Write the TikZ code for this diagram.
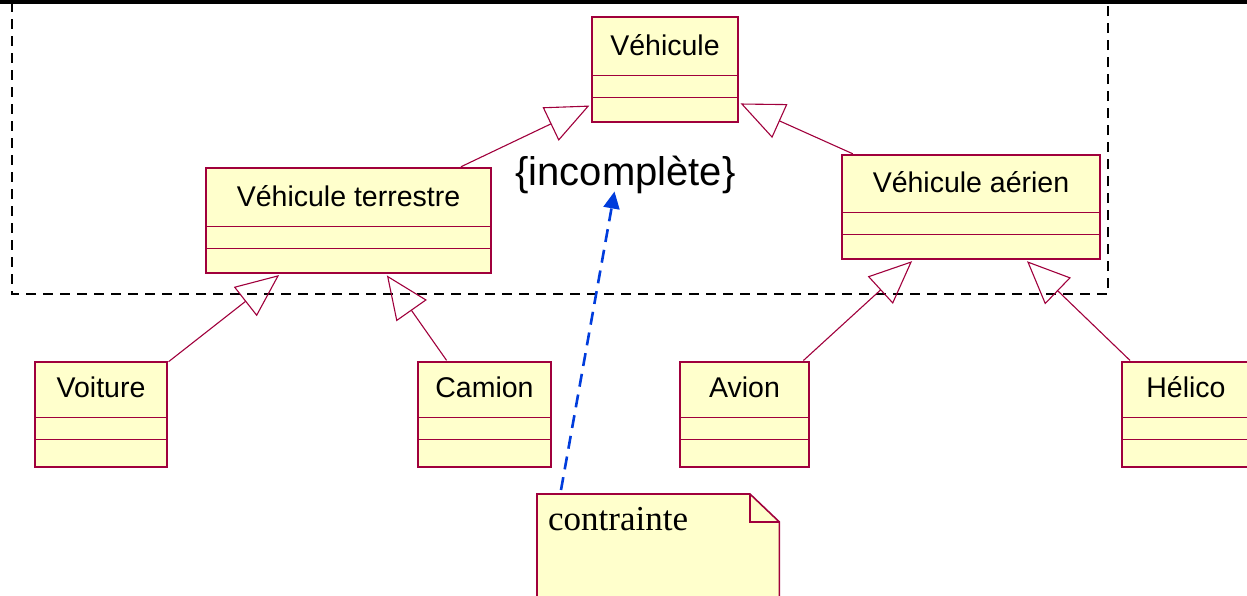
\documentclass[tikz,border=0pt]{standalone}
\usepackage{fontspec}
\setmainfont{Liberation Serif}
\setsansfont{Liberation Sans}
\usetikzlibrary{arrows.meta, calc}
\definecolor{umlred}{RGB}{160,0,60}
\definecolor{umlyellow}{RGB}{255,255,204}
\definecolor{linkblue}{RGB}{0,60,220}
\tikzset{
  classbox/.style={draw=umlred, line width=1.6pt, fill=umlyellow, inner sep=0pt},
  classtitle/.style={font=\sffamily\fontsize{28.5}{30}\selectfont, inner sep=0pt},
  compart/.style={umlred, line width=1.2pt},
  inherit/.style={umlred, line width=1.1pt, shorten >=2pt, shorten <=1pt,
    -{Triangle[open, length=43pt, width=37pt]}},
  frame/.style={line width=2.3pt, dash pattern=on 10pt off 7pt},
  constraint/.style={linkblue, line width=2.6pt, dash pattern=on 13pt off 8pt,
    -{Triangle[length=17pt, width=16pt]}},
}
% name, centre, width, height, title part height, title
\newcommand{\umlclass}[6]{%
  \node[classbox, minimum width=#3, minimum height=#4] (#1) at (#2) {};
  \node[classtitle, anchor=base] (#1-title) at ($(#1.north)+(0,#5-20)$) {#6};
  \draw[compart] ($(#1.north west)+(0,#5)$) -- ($(#1.north east)+(0,#5)$);
  \draw[compart] ($(#1.north west)+(0,#5+22)$) -- ($(#1.north east)+(0,#5+22)$);
}
\begin{document}
\begin{tikzpicture}[x=1pt, y=-1pt]
  \useasboundingbox (0,0) rectangle (1247,595);
  \clip (0,0) rectangle (1247,595);

  % Frame round the first level
  \draw[frame] (12,2) rectangle (1108,294);
  \fill (0,0) rectangle (1247,4);

  % Classes
  \umlclass{veh}{665,69.5}{146pt}{105pt}{59}{Véhicule}
  \umlclass{vt}{348.5,220.5}{285pt}{105pt}{59}{Véhicule terrestre}
  \umlclass{va}{971,207}{258pt}{104pt}{58}{Véhicule aérien}
  \umlclass{voit}{101,414.5}{132pt}{105pt}{56}{Voiture}
  \umlclass{cam}{484.5,414.5}{133pt}{105pt}{56}{Camion}
  \umlclass{avion}{744.5,414.5}{129pt}{105pt}{56}{Avion}
  \umlclass{helico}{1186,414.5}{128pt}{105pt}{56}{Hélico}

  % Generalisations
  \draw[inherit] (vt) -- (veh);
  \draw[inherit] (va) -- (veh);
  \draw[inherit] (voit) -- (vt);
  \draw[inherit] (cam) -- (vt);
  \draw[inherit] (avion) -- (va);
  \draw[inherit] (helico) -- (va);

  % Constraint
  \node[font=\sffamily\fontsize{40}{44}\selectfont, inner sep=0pt, anchor=base]
    (incomp) at (625.5,185) {\{incomplète\}};

  % Note
  \node[minimum width=242pt, minimum height=130pt, inner sep=0pt,
    anchor=north west] (note) at (537,494) {};
  \draw[classbox] (note.north west) -- ++(213,0) -- ($(note.north east)+(0,28)$)
    -- (note.south east) -- (note.south west) -- cycle;
  \draw[compart] ($(note.north west)+(213,0)$) |- ($(note.north east)+(0,28)$);
  \node[font=\fontsize{35}{38}\selectfont, inner sep=0pt, anchor=base west]
    (note-text) at (548,530) {contrainte};

  % Link from the note to the constraint
  \coordinate (cst-foot) at ($(note.north west)+(24,-4)$);
  \coordinate (cst-tip) at ($(incomp.south)+(-11,-2)$);
  \draw[constraint] (cst-foot) -- (cst-tip);
\end{tikzpicture}
\end{document}
